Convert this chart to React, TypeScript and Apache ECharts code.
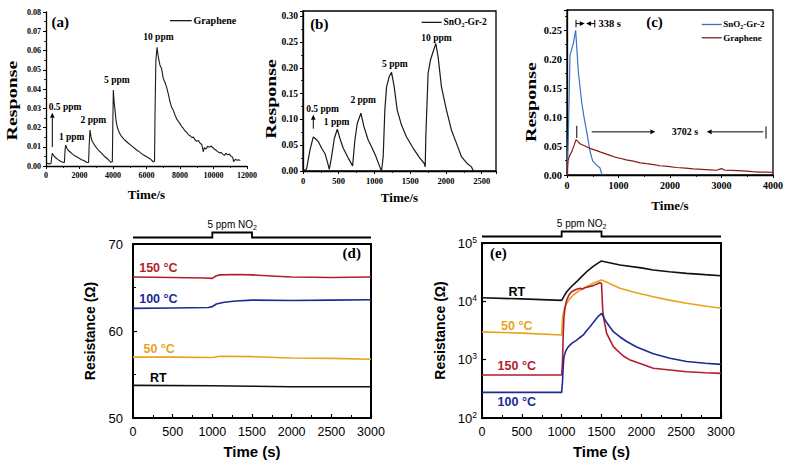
import React, { useEffect, useRef } from 'react';
import * as echarts from 'echarts';

type Pt = [number, number];

// ---------- (a) Graphene response vs time ----------
const grapheneA: Pt[] = [
  [0, 0.0012], [100, 0.0014], [200, 0.0011], [300, 0.0013], [340, 0.0045], [376, 0.0066], [430, 0.0058],
  [520, 0.0048], [620, 0.004], [720, 0.0033], [820, 0.0027], [920, 0.0022], [1020, 0.0019], [1100, 0.0019],
  [1140, 0.0085], [1176, 0.0109], [1230, 0.0095], [1320, 0.0082], [1430, 0.0074], [1550, 0.0064], [1680, 0.0055],
  [1830, 0.0048], [1980, 0.004], [2130, 0.0033], [2280, 0.0027], [2430, 0.0019], [2540, 0.0018], [2580, 0.011],
  [2627, 0.0187], [2680, 0.0155], [2740, 0.0132], [2830, 0.0118], [2950, 0.0102], [3120, 0.0083], [3300, 0.0068],
  [3520, 0.0048], [3700, 0.0035], [3880, 0.0019], [3960, 0.0022], [3990, 0.022], [4020, 0.0395], [4070, 0.033],
  [4120, 0.029], [4190, 0.023], [4260, 0.02], [4380, 0.0172], [4520, 0.0152], [4700, 0.0135], [4920, 0.0118],
  [5150, 0.0102], [5410, 0.0083], [5600, 0.0072], [5800, 0.0058], [6010, 0.0048], [6200, 0.0038], [6410, 0.0022],
  [6480, 0.0025], [6510, 0.028], [6560, 0.055], [6630, 0.0617], [6700, 0.057], [6800, 0.0525], [6905, 0.0505],
  [7000, 0.0455], [7100, 0.0435], [7200, 0.041], [7300, 0.0375], [7400, 0.0335], [7500, 0.0305], [7600, 0.029],
  [7700, 0.0265], [7800, 0.0245], [7900, 0.0232], [8000, 0.022], [8100, 0.0205], [8200, 0.0195], [8300, 0.0182],
  [8400, 0.0175], [8500, 0.0162], [8600, 0.0158], [8700, 0.0148], [8800, 0.015], [8900, 0.0135], [9000, 0.0128],
  [9100, 0.0132], [9200, 0.0118], [9300, 0.0112], [9390, 0.0074], [9450, 0.0095], [9550, 0.0088], [9650, 0.0102],
  [9750, 0.0098], [9850, 0.0104], [9950, 0.0096], [10050, 0.0088], [10150, 0.0082], [10250, 0.0075],
  [10350, 0.0068], [10450, 0.007], [10550, 0.0062], [10650, 0.0055], [10750, 0.0066], [10850, 0.0058],
  [10950, 0.0062], [11050, 0.005], [11150, 0.0045], [11200, 0.0022], [11300, 0.0035], [11400, 0.003],
  [11500, 0.0033], [11600, 0.0028],
];

// ---------- (b) SnO2-Gr-2 response vs time ----------
const sno2B: Pt[] = [
  [0, 0], [50, 0.004], [98, 0.041], [144, 0.066], [180, 0.062], [214, 0.057], [261, 0.044], [307, 0.034],
  [340, 0.018], [368, 0.003], [400, 0.028], [438, 0.063], [480, 0.081], [517, 0.063], [563, 0.044], [633, 0.025],
  [694, 0.01], [726, 0.06], [759, 0.092], [810, 0.112], [852, 0.086], [912, 0.06], [959, 0.047], [1020, 0.028],
  [1075, 0.008], [1099, 0], [1122, 0.028], [1145, 0.118], [1169, 0.163], [1206, 0.183], [1239, 0.191],
  [1276, 0.163], [1318, 0.118], [1378, 0.089], [1448, 0.066], [1542, 0.044], [1635, 0.025], [1695, 0.015],
  [1710, 0.008], [1718, 0.066], [1750, 0.189], [1783, 0.215], [1820, 0.231], [1858, 0.247], [1890, 0.221],
  [1937, 0.163], [2007, 0.118], [2077, 0.079], [2146, 0.054], [2216, 0.028], [2286, 0.016], [2356, 0.008],
  [2385, 0],
];

// ---------- (c) recovery comparison ----------
const sno2C: Pt[] = [
  [0, 0], [25, 0.064], [58, 0.207], [122, 0.227], [168, 0.25], [220, 0.178], [285, 0.126], [330, 0.1],
  [382, 0.075], [447, 0.041], [499, 0.024], [576, 0.017], [641, 0.012], [680, 0],
];
const grapheneC: Pt[] = [
  [0, 0], [20, 0.025], [50, 0.033], [91, 0.04], [140, 0.052], [175, 0.061], [210, 0.058], [252, 0.054],
  [350, 0.05], [447, 0.046], [550, 0.043], [641, 0.04], [740, 0.037], [835, 0.034], [930, 0.031], [1029, 0.029],
  [1150, 0.026], [1288, 0.024], [1420, 0.021], [1547, 0.0195], [1680, 0.018], [1806, 0.016], [1950, 0.015],
  [2130, 0.013], [2300, 0.012], [2453, 0.0105], [2620, 0.0098], [2777, 0.009], [2900, 0.0082], [3000, 0.011],
  [3060, 0.0085], [3200, 0.008], [3424, 0.007], [3600, 0.0058], [3748, 0.005], [3880, 0.0052], [4000, 0.0045],
];

// ---------- (d) resistance, linear ----------
const d150: Pt[] = [[0, 66.2], [500, 66.15], [900, 66.1], [1000, 66.05], [1050, 66.35], [1100, 66.45], [1300, 66.5], [1500, 66.45], [1800, 66.3], [2000, 66.2], [2500, 66.15], [3000, 66.2]];
const d100: Pt[] = [[0, 62.6], [500, 62.65], [950, 62.7], [1000, 62.8], [1050, 63.1], [1150, 63.3], [1300, 63.45], [1500, 63.55], [2000, 63.5], [2500, 63.55], [3000, 63.6]];
const d50: Pt[] = [[0, 57.0], [500, 57.0], [1000, 56.95], [1100, 57.1], [1500, 57.05], [2000, 56.9], [2500, 56.85], [3000, 56.75]];
const dRT: Pt[] = [[0, 53.75], [1000, 53.7], [1500, 53.65], [2000, 53.6], [3000, 53.6]];

// ---------- (e) resistance, log ----------
const eRT: Pt[] = [[0, 11500], [500, 11000], [1000, 10400], [1030, 12300], [1063, 14600], [1120, 17800], [1188, 21700], [1250, 26500], [1314, 32200], [1400, 40000], [1494, 49000], [1600, 46000], [1732, 42000], [2000, 37500], [2150, 34400], [2350, 32200], [2569, 30200], [2800, 28700], [3000, 27500]];
const e50: Pt[] = [[0, 3000], [500, 2850], [1000, 2650], [1012, 5460], [1035, 7600], [1063, 9250], [1100, 11000], [1146, 12850], [1210, 14900], [1272, 16700], [1335, 18600], [1397, 20400], [1450, 21800], [1502, 23200], [1560, 21500], [1620, 19600], [1732, 16700], [1900, 14500], [2150, 12000], [2350, 10500], [2569, 9250], [2800, 8300], [3000, 7600]];
const e150: Pt[] = [[0, 545], [500, 545], [1000, 545], [1008, 800], [1012, 1120], [1020, 2800], [1029, 5460], [1045, 8200], [1063, 10500], [1090, 12800], [1126, 14600], [1180, 15900], [1230, 16700], [1260, 16200], [1290, 17100], [1314, 17400], [1397, 18600], [1480, 20900], [1500, 20200], [1508, 12000], [1515, 7100], [1535, 4500], [1565, 2820], [1607, 2170], [1649, 1670], [1690, 1470], [1774, 1155], [1850, 1000], [1941, 900], [2150, 711], [2360, 665], [2569, 622], [2800, 598], [3000, 583]];
const e100: Pt[] = [[0, 275], [500, 275], [1000, 275], [1012, 448], [1020, 800], [1029, 1120], [1050, 1400], [1082, 1660], [1130, 1920], [1188, 2170], [1230, 2400], [1272, 2650], [1310, 3100], [1356, 3680], [1400, 4400], [1439, 5120], [1470, 5700], [1502, 6240], [1520, 5600], [1544, 4790], [1600, 3700], [1649, 3020], [1732, 2450], [1816, 2050], [1941, 1650], [2150, 1260], [2360, 1060], [2569, 930], [2800, 870], [3000, 830]];

const SERIF = '"Liberation Serif", "Times New Roman", serif';
const SANS = '"Liberation Sans", Arial, Helvetica, sans-serif';
const RED = '#b21d2c';
const BLUE = '#1c2a92';
const GOLD = '#e8a31e';
const C_BLUE = '#3a72c6';
const C_RED = '#8a1a1c';

const fmtStep = (step: number, digits: number) => (v: number) => {
  const k = v / step;
  return Math.abs(k - Math.round(k)) < 1e-6 ? v.toFixed(digits) : '';
};
const fmtInt = (v: number) => String(Math.round(v));

export default function App() {
  const ref = useRef<HTMLDivElement>(null);

  useEffect(() => {
    const chart = echarts.init(ref.current as HTMLDivElement, null, { renderer: 'svg' });

    const serifLbl = (size: number, extra: any = {}) => ({ fontFamily: SERIF, fontWeight: 'bold', fontSize: size, color: '#000', ...extra });
    const sansLbl = (size: number, extra: any = {}) => ({ fontFamily: SANS, fontSize: size, color: '#000', ...extra });

    const thinAxis = (grid: number, min: number, max: number, interval: number, size: number, fmt: any, extra: any = {}) => ({
      type: 'value', gridIndex: grid, min, max, interval,
      axisLine: { show: true, onZero: false, lineStyle: { color: '#000', width: 1.3 } },
      axisTick: { show: true, inside: false, length: 3, lineStyle: { color: '#000', width: 1 } },
      minorTick: { show: true, splitNumber: 2, length: 2, lineStyle: { color: '#000', width: 0.8 } },
      splitLine: { show: false },
      axisLabel: { ...serifLbl(size), margin: 5, formatter: fmt },
      ...extra,
    });
    const thickX = (grid: number) => ({
      type: 'value', gridIndex: grid, min: 0, max: 3000, interval: 500,
      axisLine: { show: true, onZero: false, lineStyle: { color: '#000', width: 2 } },
      axisTick: { show: true, inside: true, length: 4, lineStyle: { color: '#000', width: 1.2 } },
      minorTick: { show: true, splitNumber: 2, length: 3, lineStyle: { color: '#000', width: 1 } },
      splitLine: { show: false },
      axisLabel: { ...sansLbl(12.5), margin: 7, formatter: fmtInt },
      name: 'Time (s)', nameLocation: 'middle', nameGap: 26, nameMoveOverlap: false,
      nameTextStyle: { fontFamily: SANS, fontWeight: 'bold', fontSize: 15, color: '#000' },
    });
    const xTitle = (gap: number) => ({
      name: 'Time/s', nameLocation: 'middle', nameGap: gap, nameMoveOverlap: false,
      nameTextStyle: { fontFamily: SERIF, fontWeight: 'bold', fontSize: 13, color: '#000' },
    });
    const resTitle = (gap: number) => ({
      name: 'Resistance (Ω)', nameLocation: 'middle', nameGap: gap, nameRotate: 90, nameMoveOverlap: false,
      nameTextStyle: { fontFamily: SANS, fontWeight: 'bold', fontSize: 14, color: '#000' },
    });

    const line = (name: string, data: Pt[], g: number, color: string, width: number) => ({
      type: 'line', name, data, xAxisIndex: g, yAxisIndex: g, symbol: 'none', showSymbol: false,
      silent: true, lineStyle: { color, width }, itemStyle: { color }, z: 3,
    });

    const option: any = {
      animation: false,
      backgroundColor: '#fff',
      grid: [
        { left: 46, top: 12, width: 201, height: 154, outerBoundsMode: 'none' },
        { left: 303, top: 11, width: 193, height: 160, show: true, borderColor: '#000', borderWidth: 1.3, backgroundColor: 'transparent', outerBoundsMode: 'none' },
        { left: 567, top: 10, width: 206, height: 165, show: true, borderColor: '#000', borderWidth: 1.3, backgroundColor: 'transparent', outerBoundsMode: 'none' },
        { left: 133, top: 244, width: 238, height: 174, show: true, borderColor: '#000', borderWidth: 2, backgroundColor: 'transparent', outerBoundsMode: 'none' },
        { left: 482, top: 243, width: 239, height: 175, show: true, borderColor: '#000', borderWidth: 2, backgroundColor: 'transparent', outerBoundsMode: 'none' },
      ],
      xAxis: [
        thinAxis(0, 0, 12000, 2000, 8, fmtInt, xTitle(22)),
        thinAxis(1, 0, 2700, 500, 8.5, (v: number) => (v % 500 === 0 ? String(v) : ''), xTitle(20)),
        thinAxis(2, 0, 4000, 1000, 10, fmtInt, xTitle(24)),
        thickX(3),
        thickX(4),
      ],
      yAxis: [
        thinAxis(0, 0, 0.08, 0.01, 8, fmtStep(0.01, 2)),
        thinAxis(1, 0, 0.31, 0.05, 9.5, fmtStep(0.05, 2)),
        thinAxis(2, 0, 0.285, 0.05, 10.5, fmtStep(0.05, 2)),
        {
          type: 'value', gridIndex: 3, min: 50, max: 70, interval: 10,
          axisLine: { show: true, onZero: false, lineStyle: { color: '#000', width: 2 } },
          axisTick: { show: true, inside: true, length: 4, lineStyle: { color: '#000', width: 1.2 } },
          minorTick: { show: true, splitNumber: 2, length: 3, lineStyle: { color: '#000', width: 1 } },
          splitLine: { show: false },
          axisLabel: { ...sansLbl(13), margin: 10, formatter: fmtInt },
          ...resTitle(36),
        },
        {
          type: 'log', logBase: 10, gridIndex: 4, min: 100, max: 100000,
          axisLine: { show: true, onZero: false, lineStyle: { color: '#000', width: 2 } },
          axisTick: { show: true, inside: true, length: 4, lineStyle: { color: '#000', width: 1.2 } },
          splitLine: { show: false },
          axisLabel: {
            ...sansLbl(13), margin: 5, lineHeight: 16,
            formatter: (v: number) => '10{sup|' + Math.round(Math.log10(v)) + '}',
            rich: { sup: { fontFamily: SANS, fontSize: 8.5, lineHeight: 8, verticalAlign: 'top', color: '#000' } },
          },
          ...resTitle(35),
        },
      ],
      series: [
        line('Graphene', grapheneA, 0, '#1a1a1a', 1.1),
        line('SnO2-Gr-2', sno2B, 1, '#1a1a1a', 1.2),
        line('SnO2-Gr-2 ', sno2C, 2, C_BLUE, 1.2),
        line('Graphene ', grapheneC, 2, C_RED, 1.2),
        line('150 °C', d150, 3, RED, 1.6),
        line('100 °C', d100, 3, BLUE, 1.6),
        line('50 °C', d50, 3, GOLD, 1.6),
        line('RT', dRT, 3, '#111', 1.6),
        line('RT ', eRT, 4, '#111', 1.6),
        line('50 °C ', e50, 4, GOLD, 1.6),
        line('150 °C ', e150, 4, RED, 1.6),
        line('100 °C ', e100, 4, BLUE, 1.6),
      ],
    };
    chart.setOption(option);

    const P = (g: number, x: number, y: number): number[] =>
      chart.convertToPixel({ gridIndex: g } as any, [x, y]) as unknown as number[];

    const text = (p: number[], str: string, o: any = {}) => {
      const align = o.align ?? 'center';
      return {
        type: 'text', x: p[0], y: p[1], rotation: o.rotation ?? 0, scaleX: o.scaleX ?? 1, scaleY: o.scaleY ?? 1,
        silent: true, z: 20,
        style: {
          text: str, fontSize: o.size ?? 10, fontFamily: o.family ?? SERIF, fontWeight: o.weight ?? 'bold',
          fill: o.color ?? '#000', align, verticalAlign: 'middle', textAlign: align, textVerticalAlign: 'middle',
          lineHeight: o.lineHeight, rich: o.rich,
        },
      };
    };
    const seg = (a: number[], b: number[], color = '#000', w = 1) => ({
      type: 'line', silent: true, z: 20, shape: { x1: a[0], y1: a[1], x2: b[0], y2: b[1] },
      style: { stroke: color, lineWidth: w },
    });
    const arrow = (a: number[], b: number[], color = '#000') => {
      const dx = b[0] - a[0], dy = b[1] - a[1];
      const len = Math.hypot(dx, dy) || 1;
      const ux = dx / len, uy = dy / len;
      const hl = 5, hw = 2.3;
      const base = [b[0] - ux * hl, b[1] - uy * hl];
      return [
        seg(a, base, color, 1),
        {
          type: 'polygon', silent: true, z: 20,
          shape: { points: [b, [base[0] - uy * hw, base[1] + ux * hw], [base[0] + uy * hw, base[1] - ux * hw]] },
          style: { fill: color },
        },
      ];
    };
    const subRich = (size: number, family: string, weight: string) => ({
      sub: { fontSize: size, lineHeight: size, verticalAlign: 'bottom', fontFamily: family, fontWeight: weight, fill: '#000', color: '#000' },
    });

    const G: any[] = [];

    // ----- (a) -----
    G.push(text(P(0, 850, 0.0748), '(a)', { size: 15 }));
    G.push(seg(P(0, 7400, 0.0755), P(0, 8700, 0.0755), '#1a1a1a', 1.3));
    G.push(text(P(0, 8800, 0.0755), 'Graphene', { size: 10, align: 'left' }));
    ([['0.5 ppm', 1134, 0.0308], ['1 ppm', 1534, 0.0152], ['2 ppm', 2824, 0.0239], ['5 ppm', 4230, 0.0447], ['10 ppm', 6710, 0.067]] as [string, number, number][])
      .forEach(([s, x, y]) => G.push(text(P(0, x, y), s, { size: 9.5 })));
    G.push(...arrow(P(0, 376, 0.0098), P(0, 376, 0.0276)));
    {
      const ax = P(0, 0, 0.034);
      G.push(text([ax[0] - 34, ax[1]], 'Response', { size: 15, rotation: Math.PI / 2, scaleX: 1.33 }));
    }

    // ----- (b) -----
    G.push(text(P(1, 228, 0.284), '(b)', { size: 15 }));
    G.push(seg(P(1, 1660, 0.288), P(1, 1940, 0.288), '#1a1a1a', 1.3));
    G.push(text(P(1, 1965, 0.288), 'SnO{sub|2}-Gr-2', { size: 9.5, align: 'left', lineHeight: 12, rich: subRich(6, SERIF, 'bold') }));
    ([['0.5 ppm', 274, 0.121], ['1 ppm', 470, 0.095], ['2 ppm', 842, 0.137], ['5 ppm', 1285, 0.208], ['10 ppm', 1867, 0.257]] as [string, number, number][])
      .forEach(([s, x, y]) => G.push(text(P(1, x, y), s, { size: 9.5 })));
    G.push(...arrow(P(1, 144, 0.082), P(1, 144, 0.109)));
    {
      const ax = P(1, 0, 0.1395);
      G.push(text([ax[0] - 32, ax[1]], 'Response', { size: 15, rotation: Math.PI / 2, scaleX: 1.33 }));
    }

    // ----- (c) -----
    G.push(text(P(2, 1700, 0.264), '(c)', { size: 15 }));
    G.push(seg(P(2, 2615, 0.26), P(2, 3004, 0.26), C_BLUE, 1.3));
    G.push(text(P(2, 3035, 0.26), 'SnO{sub|2}-Gr-2', { size: 9, align: 'left', lineHeight: 12, rich: subRich(6, SERIF, 'bold') }));
    G.push(seg(P(2, 2615, 0.237), P(2, 3004, 0.237), C_RED, 1.3));
    G.push(text(P(2, 3035, 0.237), 'Graphene', { size: 9, align: 'left' }));
    G.push(seg(P(2, 175, 0.255), P(2, 175, 0.268)));
    G.push(seg(P(2, 540, 0.255), P(2, 540, 0.268)));
    G.push(...arrow(P(2, 175, 0.2615), P(2, 345, 0.2615)));
    G.push(...arrow(P(2, 540, 0.2615), P(2, 370, 0.2615)));
    G.push(text(P(2, 610, 0.2615), '338 s', { size: 10.5, align: 'left' }));
    G.push(seg(P(2, 190, 0.064), P(2, 190, 0.085)));
    G.push(...arrow(P(2, 480, 0.0745), P(2, 1716, 0.0745)));
    G.push(text(P(2, 2291, 0.0745), '3702 s', { size: 10 }));
    G.push(...arrow(P(2, 3812, 0.0745), P(2, 2712, 0.0745)));
    G.push(seg(P(2, 3864, 0.063), P(2, 3864, 0.084)));
    {
      const ax = P(2, 0, 0.126);
      G.push(text([ax[0] - 36, ax[1]], 'Response', { size: 15, rotation: Math.PI / 2, scaleX: 1.33 }));
    }

    // ----- (d) -----
    G.push(text(P(3, 2757, 68.93), '(d)', { size: 15 }));
    ([['150 °C', 320, 67.2, RED], ['100 °C', 320, 63.7, BLUE], ['50 °C', 330, 57.9, GOLD], ['RT', 320, 54.56, '#000']] as [string, number, number, string][])
      .forEach(([s, x, y, c]) => G.push(text(P(3, x, y), s, { size: 12.5, family: SANS, color: c })));

    // ----- (e) -----
    G.push(text(P(4, 205, 68200), '(e)', { size: 15 }));
    ([['RT', 436, 14600, '#000'], ['50 °C', 436, 3820, GOLD], ['150 °C', 436, 790, RED], ['100 °C', 436, 186, BLUE]] as [string, number, number, string][])
      .forEach(([s, x, y, c]) => G.push(text(P(4, x, y), s, { size: 12.5, family: SANS, color: c })));

    // gas pulse indicators above (d) and (e)
    [[3, 70], [4, 100000]].forEach(([g, top]) => {
      const xs = [0, 1000, 1500, 3000].map((t) => P(g, t, top)[0]);
      const yTop = P(g, 0, top)[1];
      const yb = yTop - 6.5, yr = yTop - 11.5;
      G.push({
        type: 'polyline', silent: true, z: 20,
        shape: { points: [[xs[0], yb], [xs[1], yb], [xs[1], yr], [xs[2], yr], [xs[2], yb], [xs[3], yb]] },
        style: { stroke: '#000', lineWidth: 1.8, fill: 'none' },
      });
      const xc = P(g, 1250, top)[0];
      G.push(text([xc, yTop - 20], '5 ppm NO{sub|2}', {
        size: 10, family: SANS, weight: 'normal', lineHeight: 13, rich: subRich(7, SANS, 'normal'),
      }));
    });

    chart.setOption({ graphic: { elements: G } });

    return () => chart.dispose();
  }, []);

  return <div ref={ref} style={{ position: 'absolute', left: 0, top: 0, width: 789, height: 465 }} />;
}
